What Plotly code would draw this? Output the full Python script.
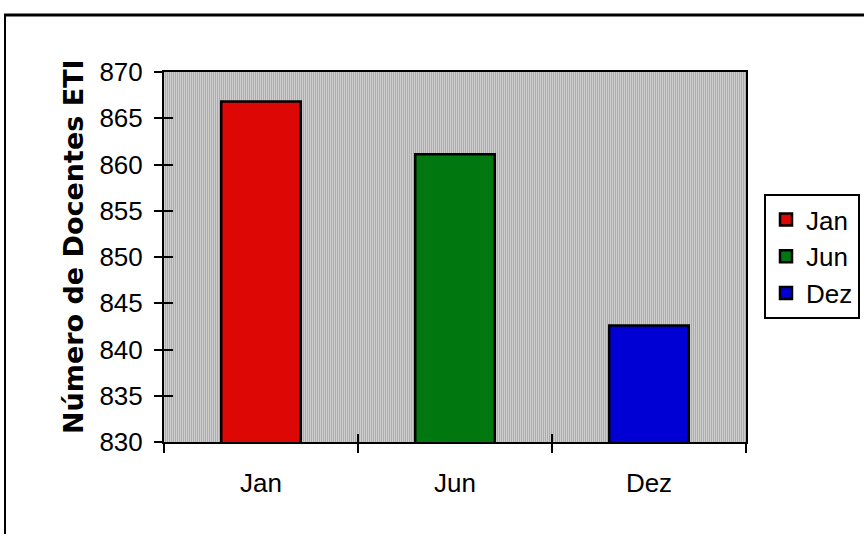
import base64
import struct
import zlib

import plotly.graph_objects as go

categories = ["Jan", "Jun", "Dez"]
values = [866.8, 861.1, 842.6]
colors = ["#DD0806", "#00780F", "#0000D4"]
y_title = "Número de Docentes ETI"
y_range = [830, 870]
y_dtick = 5

W, H = 864, 534
ML, MR, MT, MB = 164, 118, 72, 92
PW = W - ML - MR
PH = H - MT - MB


def px_x(x):
    return (x - ML) / PW


def px_y(y):
    return 1 - (y - MT) / PH


def stripe_png(width, height, light, dark):
    """Small grey vertical-stripe texture for the plot background."""
    rows = b""
    row = bytearray()
    for i in range(width):
        v = light if i % 2 == 0 else dark
        row += bytes((v, v, v))
    for _ in range(height):
        rows += b"\x00" + bytes(row)

    def chunk(tag, data):
        c = struct.pack(">I", len(data)) + tag + data
        return c + struct.pack(">I", zlib.crc32(tag + data) & 0xFFFFFFFF)

    png = b"\x89PNG\r\n\x1a\n"
    png += chunk(b"IHDR", struct.pack(">IIBBBBB", width, height, 8, 2, 0, 0, 0))
    png += chunk(b"IDAT", zlib.compress(rows, 9))
    png += chunk(b"IEND", b"")
    return "data:image/png;base64," + base64.b64encode(png).decode()


fig = go.Figure()
for cat, val, col in zip(categories, values, colors):
    fig.add_trace(go.Bar(
        x=[cat], y=[val], name=cat,
        marker=dict(color=col, line=dict(color="black", width=2.5)),
        width=0.41,
    ))

# empty helper trace so the overlay axes (inner half of the crossing ticks) are drawn
fig.add_trace(go.Scatter(x=[], y=[], xaxis="x2", yaxis="y2",
                         showlegend=False, hoverinfo="skip"))

font_family = "Liberation Sans, Arial, sans-serif"

fig.update_layout(
    width=W, height=H,
    margin=dict(l=ML, r=MR, t=MT, b=MB, autoexpand=False),
    paper_bgcolor="white",
    plot_bgcolor="rgba(0,0,0,0)",
    font=dict(family=font_family, size=26, color="black"),
    showlegend=True,
    legend=dict(
        x=px_x(764), y=px_y(194), xanchor="left", yanchor="top",
        bordercolor="black", borderwidth=2, bgcolor="white",
        font=dict(size=26), tracegroupgap=0, itemwidth=30,
    ),
    xaxis=dict(
        type="category", categoryorder="array", categoryarray=categories,
        showline=True, linecolor="black", linewidth=2, mirror=True,
        ticks="outside", ticklen=9, tickwidth=2, tickcolor="black",
        tickson="boundaries", showgrid=False, ticklabelstandoff=17,
        range=[-0.5, 2.5],
    ),
    yaxis=dict(
        range=y_range, dtick=y_dtick, tick0=830,
        showline=True, linecolor="black", linewidth=2, mirror=True,
        ticks="outside", ticklen=8, tickwidth=2, tickcolor="black",
        showgrid=False, ticklabelstandoff=6, zeroline=False,
    ),
    xaxis2=dict(
        overlaying="x", range=[-0.5, 2.5], tickvals=[0.5, 1.5],
        ticks="inside", ticklen=8, tickwidth=2, tickcolor="black",
        showticklabels=False, showgrid=False, zeroline=False, showline=False,
    ),
    yaxis2=dict(
        overlaying="y", side="left", range=y_range, dtick=y_dtick, tick0=830,
        ticks="inside", ticklen=9, tickwidth=2, tickcolor="black",
        showticklabels=False, showgrid=False, zeroline=False, showline=False,
    ),
    bargap=0.59,
)

fig.add_layout_image(
    source=stripe_png(PW, 4, 0xCD, 0xAD),
    xref="paper", yref="paper", x=0, y=1, sizex=1, sizey=1,
    xanchor="left", yanchor="top", sizing="stretch", layer="below",
)

fig.add_annotation(
    text=y_title, textangle=-90, showarrow=False,
    xref="paper", yref="paper", x=px_x(73), y=px_y(247),
    xanchor="center", yanchor="middle",
    font=dict(family="DejaVu Sans", size=27, color="black", weight="bold"),
)

# outer frame lines
fig.add_shape(type="line", xref="paper", yref="paper",
              x0=px_x(4), x1=px_x(W + 5), y0=px_y(15), y1=px_y(15),
              line=dict(color="black", width=3))
fig.add_shape(type="line", xref="paper", yref="paper",
              x0=px_x(5), x1=px_x(5), y0=px_y(14), y1=px_y(H + 5),
              line=dict(color="black", width=2))

fig.write_html("out.html", config={"displayModeBar": False},
               post_script="document.body.style.margin='0';")
